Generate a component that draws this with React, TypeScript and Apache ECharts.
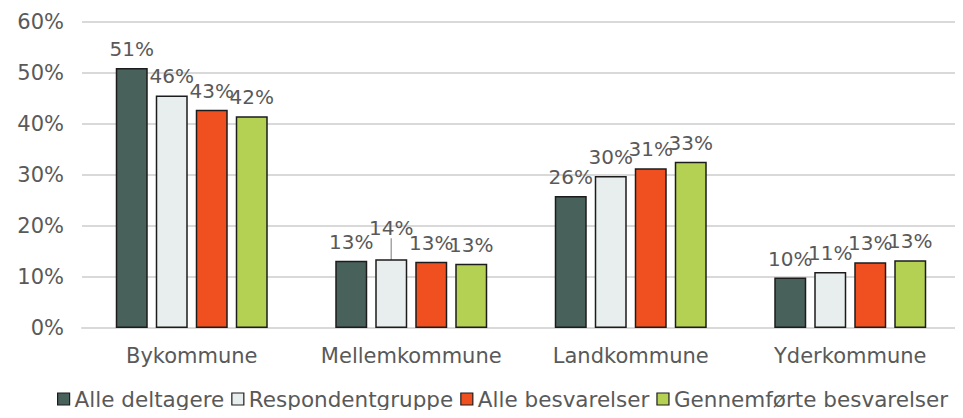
import React, { useEffect, useRef } from "react";
import * as echarts from "echarts";

const categories = ["Bykommune", "Mellemkommune", "Landkommune", "Yderkommune"];
const seriesNames = ["Alle deltagere", "Respondentgruppe", "Alle besvarelser", "Gennemførte besvarelser"];
const alleDeltagere = [51.0, 13.2, 25.9, 9.9];
const respondentgruppe = [45.6, 13.5, 29.8, 11.0];
const alleBesvarelser = [42.8, 13.0, 31.3, 12.9];
const gennemforteBesvarelser = [41.5, 12.6, 32.6, 13.3];
const yTicks = [0, 10, 20, 30, 40, 50, 60];

const colors = ["#48615a", "#e7eeed", "#f0501f", "#b4d153"];
const textColor = "#595959";
const font = "'DejaVu Sans', Verdana, sans-serif";

export default function App() {
  const ref = useRef<HTMLDivElement>(null);
  useEffect(() => {
    if (!ref.current) return;
    const chart = echarts.init(ref.current, undefined, { renderer: "svg" });
    const allData = [alleDeltagere, respondentgruppe, alleBesvarelser, gennemforteBesvarelser];
    const series = allData.map((vals, si) => ({
      name: seriesNames[si],
      type: "bar",
      barWidth: 32,
      barGap: "25%",
      itemStyle: { color: colors[si], borderColor: "#1c1c1c", borderWidth: 1.5 },
      label: {
        show: true,
        position: "top",
        distance: 9,
        color: textColor,
        fontFamily: font,
        fontSize: 20,
        formatter: (p: any) => Math.round(p.value) + "%",
      },
      labelLine: { show: false, lineStyle: { color: "#a6a6a6", width: 1.5 } },
      labelLayout: si === 1 ? (p: any) => (p.dataIndex === 1 ? { dy: -12 } : {}) : undefined,
      data: vals.map((v, i) =>
        si === 1 && i === 1
          ? { value: v, labelLine: { show: true, lineStyle: { color: "#a6a6a6", width: 1.5 } } }
          : v
      ),
    }));
    chart.setOption({
      animation: false,
      textStyle: { fontFamily: font },
      grid: { left: 82, right: 3, top: 22, bottom: 90, containLabel: false },
      legend: {
        data: seriesNames,
        bottom: 3,
        left: 52,
        icon: "rect",
        itemWidth: 12,
        itemHeight: 12,
        itemGap: 7,
        textStyle: { color: textColor, fontFamily: font, fontSize: 21.5 },
        itemStyle: { borderColor: "#1c1c1c", borderWidth: 1.2 },
      },
      xAxis: {
        type: "category",
        data: categories,
        axisLine: { show: true, lineStyle: { color: "#d9d9d9", width: 2 } },
        axisTick: { show: false },
        axisLabel: { color: textColor, fontFamily: font, fontSize: 21, margin: 17, interval: 0 },
      },
      yAxis: {
        type: "value",
        min: yTicks[0],
        max: yTicks[yTicks.length - 1],
        interval: 10,
        axisLine: { show: false },
        axisTick: { show: false },
        splitLine: { lineStyle: { color: "#d9d9d9", width: 2 } },
        axisLabel: { color: textColor, fontFamily: font, fontSize: 21, margin: 18, formatter: "{value}%" },
      },
      series,
    });
    return () => chart.dispose();
  }, []);
  return <div ref={ref} style={{ width: 963, height: 418, margin: -8 }} />;
}
